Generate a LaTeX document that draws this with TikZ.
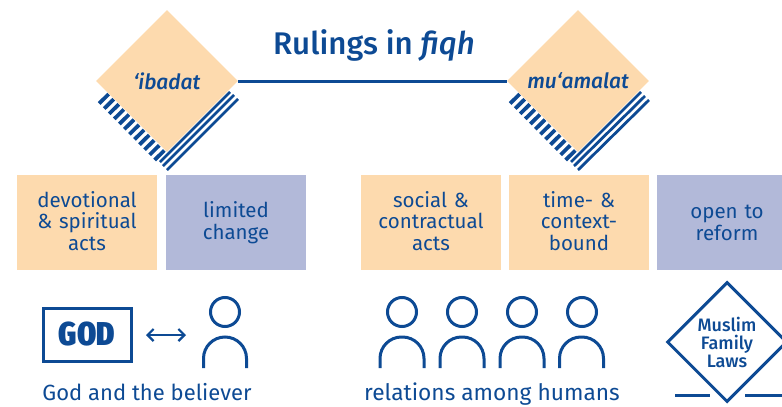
\documentclass[tikz,border=0pt]{standalone}
\usepackage{fontspec}
\setmainfont{Fira Sans}
\newfontfamily\titlefont{Fira Sans Medium}
\newfontfamily\godfont{Fira Sans Extra Condensed Black}
\usetikzlibrary{arrows.meta, shapes.geometric}
\definecolor{fiqhblue}{HTML}{0D4A94}
\definecolor{fiqhpeach}{HTML}{FDDAAE}
\definecolor{fiqhlilac}{HTML}{B2B9D9}
\tikzset{
	peachbox/.style={fill=fiqhpeach,text=fiqhblue,text width=140,minimum height=95,inner sep=0,align=center,font=\fontsize{20.5}{21.7}\selectfont,execute at end node={\par\vspace*{3pt}}},
	lilacbox/.style={peachbox,fill=fiqhlilac,execute at end node={\par\vspace*{-4pt}}},
	ruling/.style={diamond,aspect=1,fill=fiqhpeach,text=fiqhblue,minimum width=142,minimum height=142,inner sep=0,font=\fontsize{21}{24}\selectfont\titlefont\itshape},
	hatch/.style={line width=13.5,fiqhblue,dash pattern=on 3.8 off 3.4},
	stripe/.style={line width=2.8,fiqhblue},
	iconline/.style={line width=3,fiqhblue},
	caption/.style={anchor=base,text=fiqhblue,font=\fontsize{22}{24}\selectfont},
	head/.style={circle,draw=fiqhblue,line width=3,minimum size=29,inner sep=0}
}
\begin{document}
\begin{tikzpicture}[x=1pt,y=-1pt]
	\useasboundingbox (0,0) rectangle (782,407);
	\clip (0,0) rectangle (782,407);
	\draw[hatch] (102.6,97.4)--(162.6,158.4);
	\draw[stripe] (160,162)--(230,92);
	\draw[stripe] (163,166)--(234,95);
	\draw[stripe] (167,170)--(238,99);
	\draw[hatch] (513.6,97.4)--(573.6,158.4);
	\draw[stripe] (571,162)--(641,92);
	\draw[stripe] (574,166)--(645,96);
	\draw[stripe] (578,170)--(649,100);
	\node[ruling] (ibadat) at (167,81) {‘ibadat};
	\node[ruling] (muamalat) at (578,81) {mu‘amalat};
	\draw[iconline] (ibadat.east)--(muamalat.west);
	\node[text=fiqhblue,font=\fontsize{31.3}{33}\selectfont\titlefont] (title) at (374,45) {Rulings in \textit{fiqh}};
	\node[peachbox] (devotional) at (87,222.5) {devotional\\\& spiritual\\acts};
	\node[lilacbox] (limited) at (236,222.5) {limited\\change};
	\node[peachbox] (social) at (431,222.5) {social \&\\contractual\\acts};
	\node[peachbox] (timebound) at (579,222.5) {time- \&\\context-\\bound};
	\node[lilacbox] (reform) at (727,222.5) {open to\\reform};
	\node[draw=fiqhblue,line width=3,text=fiqhblue,minimum width=88,minimum height=53,inner sep=0,font=\fontsize{33}{34}\selectfont\godfont] (god) at (87,334.5) {GOD};
	\node[head] (believer) at (225,312) {};
	\draw[iconline,rounded corners=21.5] (203.5,368)--(203.5,337)--(246.5,337)--(246.5,368);
	\coordinate (arrowleft) at (146,335);
	\coordinate (arrowright) at (186,335);
	\draw[{Straight Barb[length=6,width=12]}-{Straight Barb[length=6,width=12]},line width=2.2,fiqhblue] (arrowleft)--(arrowright);
	\node[caption] (godcaption) at (147,400) {God and the believer};
	\node[head] (humana) at (402,312) {};
	\node[head] (humanb) at (462,312) {};
	\node[head] (humanc) at (522,312) {};
	\node[head] (humand) at (582,312) {};
	\draw[iconline,rounded corners=21.5] (380,368)--(380,337)--(424,337)--(424,368);
	\draw[iconline,rounded corners=21.5] (440,368)--(440,337)--(484,337)--(484,368);
	\draw[iconline,rounded corners=21.5] (500,368)--(500,337)--(544,337)--(544,368);
	\draw[iconline,rounded corners=21.5] (559.5,368)--(559.5,337)--(603.5,337)--(603.5,368);
	\node[caption,font=\fontsize{22.7}{24}\selectfont] (humancaption) at (492,400) {relations among humans};
	\node[diamond,aspect=1,draw=fiqhblue,line width=3,text=fiqhblue,minimum width=120,minimum height=120,inner sep=0,align=center,font=\fontsize{18}{18}\selectfont\titlefont] (laws) at (727,342) {Muslim\\Family\\Laws};
	\draw[iconline] (675,395)--(710,395);
	\draw[iconline] (745,395)--(782,395);
\end{tikzpicture}
\end{document}
